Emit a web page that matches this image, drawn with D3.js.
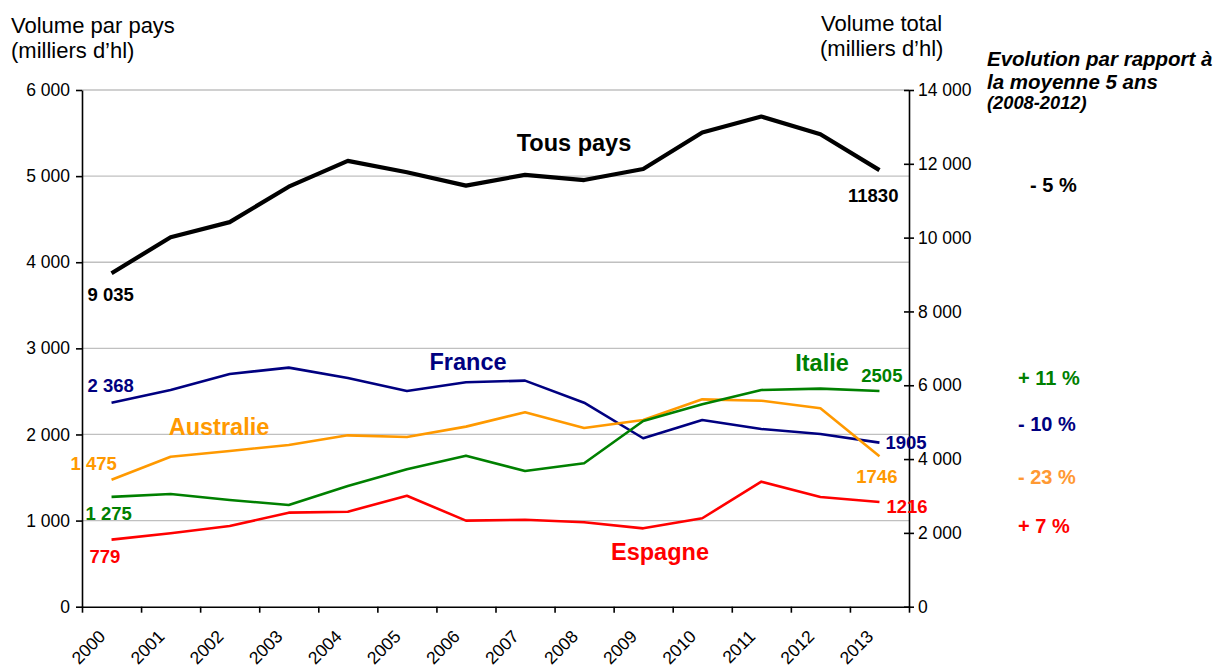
<!DOCTYPE html>
<html>
<head>
<meta charset="utf-8">
<script src="https://cdn.jsdelivr.net/npm/d3@7/dist/d3.min.js"></script>
<style>
  body { margin: 0; background: #fff; }
  svg, svg text { font-family: "Liberation Sans", Arial, sans-serif; }
  .domain { stroke: #000; }
</style>
</head>
<body>
<div id="chart"></div>
<script>
var years = [2000, 2001, 2002, 2003, 2004, 2005, 2006, 2007, 2008, 2009, 2010, 2011, 2012, 2013];

// volume total (right axis)
var tousPays = [9035, 10010, 10420, 11380, 12080, 11770, 11410, 11700, 11560, 11860, 12850, 13280, 12800, 11830];

// volumes par pays (left axis)
var france    = [2368, 2517, 2702, 2776, 2656, 2505, 2606, 2625, 2369, 1956, 2168, 2064, 2006, 1905];
var australie = [1475, 1742, 1808, 1878, 1990, 1971, 2091, 2258, 2075, 2168, 2408, 2392, 2304, 1746];
var italie    = [1275, 1309, 1239, 1181, 1402, 1596, 1754, 1576, 1665, 2157, 2350, 2517, 2532, 2505];
var espagne   = [779, 852, 937, 1092, 1103, 1289, 999, 1010, 980, 910, 1027, 1452, 1274, 1216];

var leftTicks = [0, 1000, 2000, 3000, 4000, 5000, 6000];
var rightTicks = [0, 2000, 4000, 6000, 8000, 10000, 12000, 14000];

var evolutions = ["- 5 %", "+ 11 %", "- 10 %", "- 23 %", "+ 7 %"];

var width = 1217, height = 665;
var x0 = 82, x1 = 909, yTop = 90, yBot = 606.7;

var fr = d3.formatLocale({decimal: ",", thousands: " ", grouping: [3], currency: ["", " €"]});
var fmt = fr.format(",");

var svg = d3.select("#chart").append("svg")
    .attr("width", width)
    .attr("height", height);

var x = d3.scaleBand().domain(years).range([x0, x1]).padding(0);
var xTick = d3.scaleLinear().domain([0, years.length]).range([x0, x1]);
var yL = d3.scaleLinear().domain([0, 6000]).range([yBot, yTop]);
var yR = d3.scaleLinear().domain([0, 14000]).range([yBot, yTop]);

function px(d, i) { return x(years[i]) + x.bandwidth() / 2; }

// gridlines
svg.append("g")
    .selectAll("line")
    .data(leftTicks.slice(1))
    .enter()
    .append("line")
        .attr("x1", x0)
        .attr("x2", x1)
        .attr("y1", function(d) { return yL(d); })
        .attr("y2", function(d) { return yL(d); })
        .attr("stroke", "#c0c0c0")
        .attr("stroke-width", 1.3);

function styleAxis(g) {
    g.attr("font-family", null).attr("font-size", null);
    g.selectAll("text").attr("font-size", 17.5).attr("fill", "#000");
    g.selectAll("line, path").attr("stroke-width", 1.6);
}

// left axis
var axL = svg.append("g")
    .attr("transform", "translate(" + x0 + ",0)")
    .call(d3.axisLeft(yL).tickValues(leftTicks).tickFormat(fmt).tickSize(6).tickSizeOuter(0).tickPadding(6));
styleAxis(axL);

// right axis, ticks crossing the line
var axR = svg.append("g")
    .attr("transform", "translate(" + x1 + ",0)")
    .call(d3.axisRight(yR).tickValues(rightTicks).tickFormat(fmt).tickSize(5).tickSizeOuter(0).tickPadding(4));
axR.selectAll(".tick line").attr("x1", -5);
styleAxis(axR);

// bottom axis, ticks at category edges
var axB = svg.append("g")
    .attr("transform", "translate(0," + yBot + ")")
    .call(d3.axisBottom(xTick).tickValues(d3.range(years.length + 1))
        .tickFormat(function(i) { return i < years.length ? years[i] : ""; })
        .tickSize(6).tickSizeOuter(0));
styleAxis(axB);
axB.selectAll("text")
    .attr("x", 0)
    .attr("y", 0)
    .attr("dy", 0)
    .attr("text-anchor", "end")
    .attr("transform", "translate(24,31) rotate(-45)");

// lines
var series = [
    {name: "France", values: france, color: "#000080", scale: yL, w: 2.6},
    {name: "Australie", values: australie, color: "#ff9900", scale: yL, w: 2.6},
    {name: "Italie", values: italie, color: "#008000", scale: yL, w: 2.6},
    {name: "Espagne", values: espagne, color: "#ff0000", scale: yL, w: 2.6},
    {name: "Tous pays", values: tousPays, color: "#000000", scale: yR, w: 4.2}
];

series.forEach(function(s) {
    var line = d3.line()
        .x(px)
        .y(function(d) { return s.scale(d); });
    svg.append("path")
        .datum(s.values)
        .attr("fill", "none")
        .attr("stroke", s.color)
        .attr("stroke-width", s.w)
        .attr("stroke-linejoin", "round")
        .attr("d", line);
});

// value labels at first and last point
var valueLabels = [
    {s: 4, i: 0, text: "9 035", dx: -24, dy: 28, anchor: "start"},
    {s: 4, i: 13, text: "11830", dx: 19, dy: 32, anchor: "end"},
    {s: 0, i: 0, text: "2 368", dx: -24, dy: -11, anchor: "start"},
    {s: 1, i: 0, text: "1 475", dx: -41, dy: -10, anchor: "start"},
    {s: 2, i: 0, text: "1 275", dx: -26, dy: 23, anchor: "start"},
    {s: 3, i: 0, text: "779", dx: -22, dy: 23, anchor: "start"},
    {s: 2, i: 13, text: "2505", dx: 23, dy: -9, anchor: "end"},
    {s: 0, i: 13, text: "1905", dx: 6, dy: 6, anchor: "start"},
    {s: 1, i: 13, text: "1746", dx: 18, dy: 27, anchor: "end"},
    {s: 3, i: 13, text: "1216", dx: 7, dy: 11, anchor: "start"}
];

svg.append("g")
    .selectAll("text")
    .data(valueLabels)
    .enter()
    .append("text")
        .attr("x", function(d) { return px(null, d.i) + d.dx; })
        .attr("y", function(d) { var s = series[d.s]; return s.scale(s.values[d.i]) + d.dy; })
        .attr("text-anchor", function(d) { return d.anchor; })
        .attr("font-size", 18.5)
        .attr("font-weight", "bold")
        .attr("fill", function(d) { return series[d.s].color; })
        .text(function(d) { return d.text; });

// series names
var names = [
    {s: 4, x: 574, y: 151},
    {s: 0, x: 468, y: 370},
    {s: 1, x: 219, y: 435},
    {s: 2, x: 822, y: 371},
    {s: 3, x: 660, y: 560}
];

svg.append("g")
    .selectAll("text")
    .data(names)
    .enter()
    .append("text")
        .attr("x", function(d) { return d.x; })
        .attr("y", function(d) { return d.y; })
        .attr("text-anchor", "middle")
        .attr("font-size", 23.5)
        .attr("font-weight", "bold")
        .attr("fill", function(d) { return series[d.s].color; })
        .text(function(d) { return series[d.s].name; });

// axis titles
var titles = [
    {x: 11, y: 33, text: "Volume par pays"},
    {x: 11, y: 58, text: "(milliers d\u2019hl)"},
    {x: 821, y: 31, text: "Volume total"},
    {x: 820, y: 56, text: "(milliers d\u2019hl)"}
];
svg.append("g")
    .selectAll("text")
    .data(titles)
    .enter()
    .append("text")
        .attr("x", function(d) { return d.x; })
        .attr("y", function(d) { return d.y; })
        .attr("font-size", 22)
        .attr("fill", "#000")
        .text(function(d) { return d.text; });

// evolution column
var evoHead = svg.append("text")
    .attr("x", 987)
    .attr("font-weight", "bold")
    .attr("font-style", "italic")
    .attr("fill", "#000");
evoHead.append("tspan").attr("x", 987).attr("y", 66).attr("font-size", 20.5).text("Evolution par rapport \u00e0");
evoHead.append("tspan").attr("x", 987).attr("y", 89).attr("font-size", 20.5).text("la moyenne 5 ans");
evoHead.append("tspan").attr("x", 987).attr("y", 109).attr("font-size", 18.3).text("(2008-2012)");

var evoPos = [
    {x: 1030, y: 192, color: "#000000"},
    {x: 1018, y: 385, color: "#008000"},
    {x: 1018, y: 431, color: "#000080"},
    {x: 1018, y: 484, color: "#ff9933"},
    {x: 1018, y: 533, color: "#ff0000"}
];

svg.append("g")
    .selectAll("text")
    .data(evolutions)
    .enter()
    .append("text")
        .attr("x", function(d, i) { return evoPos[i].x; })
        .attr("y", function(d, i) { return evoPos[i].y; })
        .attr("font-size", 20)
        .attr("font-weight", "bold")
        .attr("fill", function(d, i) { return evoPos[i].color; })
        .text(function(d) { return d; });
</script>
</body>
</html>
